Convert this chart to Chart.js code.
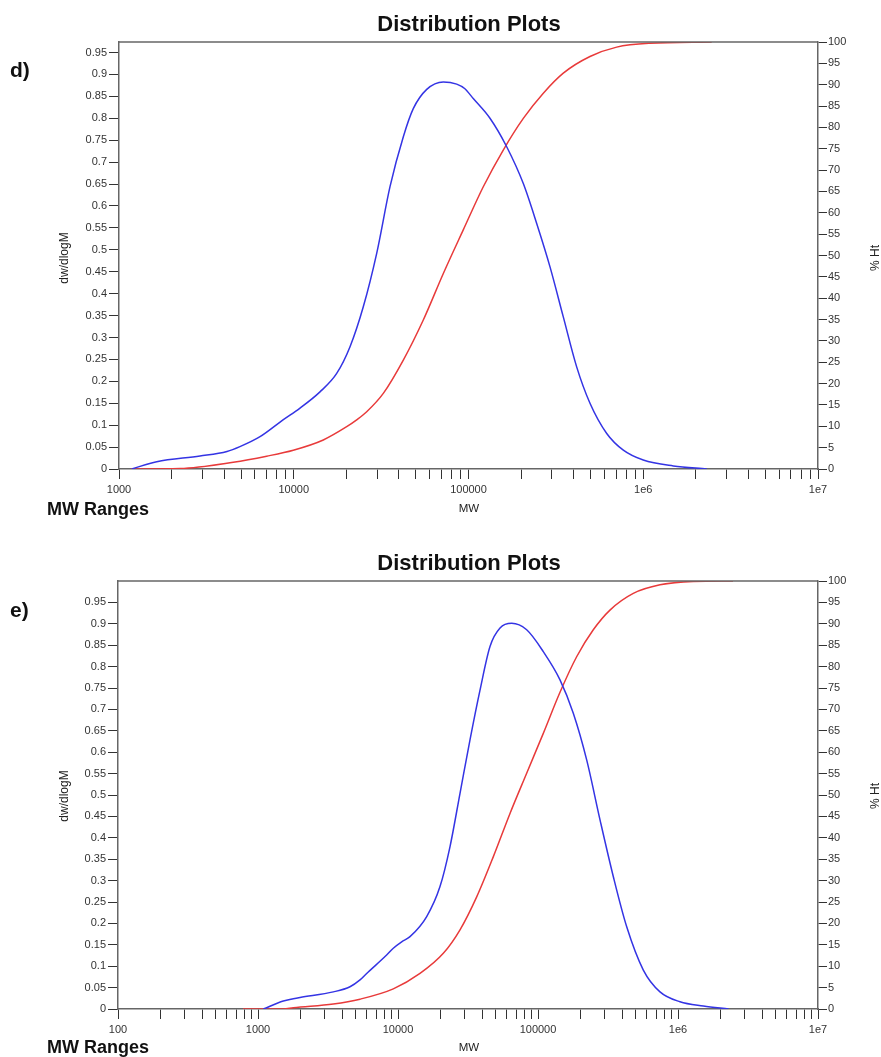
<!DOCTYPE html>
<html>
<head>
<meta charset="utf-8">
<script src="https://cdn.jsdelivr.net/npm/chart.js@4.4.1/dist/chart.umd.min.js"></script>
<style>
  html, body { margin: 0; padding: 0; background: #fff; }
  body { width: 881px; height: 1057px; position: relative; overflow: hidden; font-family: "Liberation Sans", Arial, sans-serif; color: #111; }
  canvas { position: absolute; left: 0; }
  .txt { position: absolute; white-space: nowrap; line-height: 1; }
  .title { font-size: 22px; font-weight: bold; transform: translateX(-50%); }
  .panel { font-size: 21px; font-weight: bold; }
  .ranges { font-size: 18px; font-weight: bold; }
  .xname { font-size: 11.5px; color: #222; transform: translateX(-50%); }
  .yname { font-size: 12px; color: #222; transform: translate(-50%, -50%) rotate(-90deg); }
</style>
</head>
<body>
<canvas id="chartD" width="881" height="528" style="top:0"></canvas>
<canvas id="chartE" width="881" height="529" style="top:528px"></canvas>

<div class="txt title" style="left:469px; top:13px">Distribution Plots</div>
<div class="txt panel" style="left:10px; top:59px">d)</div>
<div class="txt yname" style="left:64px; top:258px">dw/dlogM</div>
<div class="txt yname" style="left:875px; top:258px">% Ht</div>
<div class="txt xname" style="left:469px; top:503px">MW</div>
<div class="txt ranges" style="left:47px; top:500px">MW Ranges</div>

<div class="txt title" style="left:469px; top:552px">Distribution Plots</div>
<div class="txt panel" style="left:10px; top:599px">e)</div>
<div class="txt yname" style="left:64px; top:796px">dw/dlogM</div>
<div class="txt yname" style="left:875px; top:796px">% Ht</div>
<div class="txt xname" style="left:469px; top:1042px">MW</div>
<div class="txt ranges" style="left:47px; top:1038px">MW Ranges</div>

<script>
// ---- Sample d) : differential distribution (dw/dlogM) ----
const mwDistD = [1182, 1644, 2907, 4150, 4921, 6412, 8680, 10860, 14130, 17610, 20990, 25000, 29830, 35550, 42370, 48300, 57670, 71770, 85590, 95000, 106500, 132700, 165400, 205900, 245600, 292700, 348700, 415900, 495700, 618000, 769000, 1000000, 1486000, 2310000];
const dwDlogMD = [0, 0.0167, 0.0296, 0.040, 0.051, 0.0737, 0.112, 0.139, 0.176, 0.218, 0.279, 0.370, 0.492, 0.644, 0.758, 0.822, 0.866, 0.883, 0.878, 0.868, 0.845, 0.800, 0.735, 0.651, 0.560, 0.461, 0.347, 0.233, 0.150, 0.081, 0.043, 0.0205, 0.007, 0];
// ---- Sample d) : cumulative distribution (% Ht) ----
const mwCumD = [1172, 2233, 4508, 6998, 9940, 14760, 20090, 22910, 26150, 32540, 42360, 55120, 71770, 93330, 121500, 158100, 205900, 268000, 348700, 495700, 704700, 1093000, 2464000];
const pctHtD = [0, 0.1, 1.57, 3.0, 4.4, 6.8, 9.9, 11.5, 13.4, 17.7, 25.5, 34.9, 45.8, 56.0, 66.1, 74.7, 82.1, 88.0, 92.7, 96.6, 98.8, 99.7, 100];

// ---- Sample e) : differential distribution (dw/dlogM) ----
const mwDistE = [1091, 1517, 1786, 1995, 3452, 4540, 5354, 5973, 8295, 9256, 10620, 12180, 16030, 19950, 23510, 27730, 32680, 38530, 45410, 53550, 64870, 83000, 109100, 143600, 178700, 222700, 277300, 345300, 430200, 565400, 743700, 1033000, 1517000, 2300000];
const dwDlogME = [0, 0.0187, 0.024, 0.027, 0.040, 0.052, 0.068, 0.083, 0.126, 0.142, 0.157, 0.169, 0.216, 0.286, 0.379, 0.504, 0.629, 0.745, 0.847, 0.890, 0.901, 0.886, 0.835, 0.769, 0.691, 0.582, 0.442, 0.309, 0.192, 0.091, 0.040, 0.017, 0.007, 0];
// ---- Sample e) : cumulative distribution (% Ht) ----
const mwCumE = [781, 1517, 1786, 3452, 5354, 9256, 14360, 21070, 27730, 36480, 47980, 63100, 83000, 109100, 143600, 188800, 248300, 326600, 479500, 743700, 1285000, 2470000];
const pctHtE = [0, 0, 0.3, 1.17, 2.3, 4.7, 8.3, 13.0, 18.5, 26.2, 35.6, 45.7, 55.1, 64.4, 74.0, 82.3, 88.6, 93.2, 97.1, 99.1, 99.9, 100];

// ---- Axis ticks and labels ----
const leftTickValues = [0, 0.05, 0.1, 0.15, 0.2, 0.25, 0.3, 0.35, 0.4, 0.45, 0.5, 0.55, 0.6, 0.65, 0.7, 0.75, 0.8, 0.85, 0.9, 0.95];
const leftTickLabels = ['0', '0.05', '0.1', '0.15', '0.2', '0.25', '0.3', '0.35', '0.4', '0.45', '0.5', '0.55', '0.6', '0.65', '0.7', '0.75', '0.8', '0.85', '0.9', '0.95'];
const rightTickValues = [0, 5, 10, 15, 20, 25, 30, 35, 40, 45, 50, 55, 60, 65, 70, 75, 80, 85, 90, 95, 100];
const rightTickLabels = ['0', '5', '10', '15', '20', '25', '30', '35', '40', '45', '50', '55', '60', '65', '70', '75', '80', '85', '90', '95', '100'];
const decadesD = [1000, 10000, 100000, 1000000, 10000000];
const decadeLabelsD = ['1000', '10000', '100000', '1e6', '1e7'];
const decadesE = [100, 1000, 10000, 100000, 1000000, 10000000];
const decadeLabelsE = ['100', '1000', '10000', '100000', '1e6', '1e7'];
const leftMaxD = 0.974;
const leftMaxE = 1.0;

const BLUE = '#3434e4';
const RED = '#e83a3a';
const AXIS = '#666';
const TICK = '#333';
const FONT = { family: '"Liberation Sans", Arial, sans-serif', size: 11 };

// minor + major tick positions along a log axis (1..9 x each decade)
function logTickPositions(decades) {
  const out = [];
  for (let i = 0; i < decades.length; i++) {
    const d = decades[i];
    if (i === decades.length - 1) { out.push(d); break; }
    for (let m = 1; m <= 9; m++) out.push(d * m);
  }
  return out;
}

function toPoints(xs, ys) {
  return xs.map((x, i) => ({ x: x, y: ys[i] }));
}

// draws the top edge of the plot frame
const frameTop = {
  id: 'frameTop',
  afterDraw(chart) {
    const a = chart.chartArea, ctx = chart.ctx;
    ctx.save();
    ctx.strokeStyle = AXIS;
    ctx.lineWidth = 1.5;
    ctx.beginPath();
    ctx.moveTo(a.left, a.top);
    ctx.lineTo(a.right, a.top);
    ctx.stroke();
    ctx.restore();
  }
};

function makeChart(id, cfg) {
  const xPositions = logTickPositions(cfg.decades);
  return new Chart(document.getElementById(id), {
    type: 'line',
    data: {
      datasets: [
        {
          data: toPoints(cfg.mwDist, cfg.dist),
          yAxisID: 'y',
          borderColor: BLUE,
          borderWidth: 1.5,
          pointRadius: 0,
          cubicInterpolationMode: 'monotone',
          fill: false
        },
        {
          data: toPoints(cfg.mwCum, cfg.cum),
          yAxisID: 'y1',
          borderColor: RED,
          borderWidth: 1.5,
          pointRadius: 0,
          cubicInterpolationMode: 'monotone',
          fill: false
        }
      ]
    },
    options: {
      responsive: false,
      animation: false,
      devicePixelRatio: 1,
      layout: { padding: { top: cfg.padTop, bottom: cfg.padBottom, left: 0, right: 0 } },
      plugins: { legend: { display: false }, tooltip: { enabled: false }, title: { display: false } },
      scales: {
        x: {
          type: 'logarithmic',
          position: 'bottom',
          min: cfg.decades[0],
          max: cfg.decades[cfg.decades.length - 1],
          afterBuildTicks: (s) => { s.ticks = xPositions.map(v => ({ value: v })); },
          afterFit: (s) => { s.height = 30; },
          ticks: {
            autoSkip: false, maxRotation: 0, minRotation: 0, padding: 4,
            color: TICK, font: FONT,
            callback: (v) => {
              const k = cfg.decades.indexOf(v);
              return k >= 0 ? cfg.decadeLabels[k] : '';
            }
          },
          grid: { drawOnChartArea: false, drawTicks: true, tickLength: 10, tickColor: TICK, tickWidth: 1 },
          border: { color: AXIS, width: 1.5 }
        },
        y: {
          type: 'linear',
          position: 'left',
          min: 0,
          max: cfg.leftMax,
          afterBuildTicks: (s) => { s.ticks = leftTickValues.map(v => ({ value: v })); },
          afterFit: (s) => { s.width = cfg.leftWidth; },
          ticks: {
            autoSkip: false, padding: 2, color: TICK, font: FONT,
            callback: (v, i) => leftTickLabels[i]
          },
          grid: { drawOnChartArea: false, drawTicks: true, tickLength: 10, tickColor: TICK, tickWidth: 1 },
          border: { color: AXIS, width: 1.5 }
        },
        y1: {
          type: 'linear',
          position: 'right',
          min: 0,
          max: 100,
          afterBuildTicks: (s) => { s.ticks = rightTickValues.map(v => ({ value: v })); },
          afterFit: (s) => { s.width = 63; },
          ticks: {
            autoSkip: false, padding: 1, color: TICK, font: FONT,
            callback: (v, i) => rightTickLabels[i]
          },
          grid: { drawOnChartArea: false, drawTicks: true, tickLength: 9, tickColor: TICK, tickWidth: 1 },
          border: { color: AXIS, width: 1.5 }
        }
      }
    },
    plugins: [frameTop]
  });
}

makeChart('chartD', {
  mwDist: mwDistD, dist: dwDlogMD, mwCum: mwCumD, cum: pctHtD,
  decades: decadesD, decadeLabels: decadeLabelsD,
  leftMax: leftMaxD, leftWidth: 119, padTop: 42, padBottom: 29
});

makeChart('chartE', {
  mwDist: mwDistE, dist: dwDlogME, mwCum: mwCumE, cum: pctHtE,
  decades: decadesE, decadeLabels: decadeLabelsE,
  leftMax: leftMaxE, leftWidth: 118, padTop: 53, padBottom: 18
});
</script>
</body>
</html>
